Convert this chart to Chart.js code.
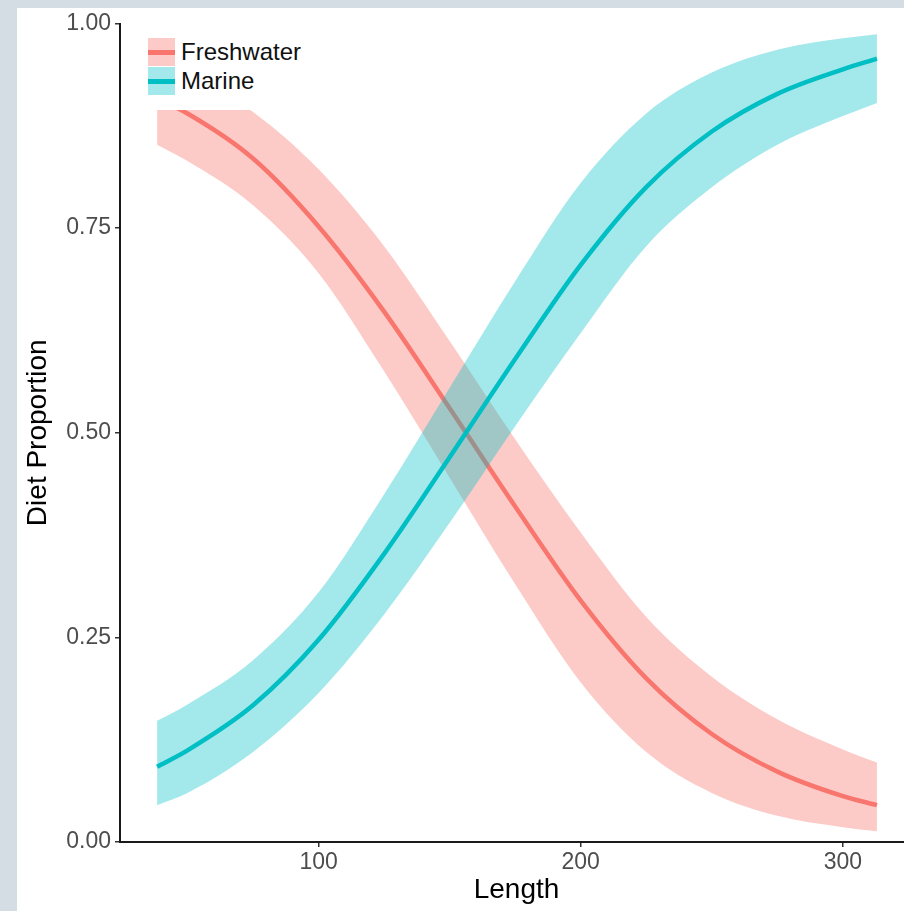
<!DOCTYPE html>
<html>
<head>
<meta charset="utf-8">
<script src="https://cdn.jsdelivr.net/npm/chart.js@4.4.1/dist/chart.umd.min.js"></script>
<style>
  html, body { margin: 0; padding: 0; width: 904px; height: 911px; overflow: hidden; background: #d4dce4; }
  #wrap { position: absolute; left: 17px; top: 8px; width: 896px; height: 903px; background: #fff; }
  #legend { position: absolute; left: 140px; top: 30px; width: 178px; height: 80px; background: #fff;
    font-family: 'Liberation Sans', Arial, sans-serif; font-size: 24px; color: #111; }
  .row { position: absolute; left: 8px; height: 28px; display: flex; align-items: center; }
  .key { position: relative; width: 27px; height: 28px; margin-right: 6px; }
  .key span { position: absolute; left: 0; right: 0; top: 12px; height: 4.5px; }
</style>
</head>
<body>
<div id="wrap"><canvas id="chart" width="896" height="903"></canvas></div>
<div id="legend"></div>
<script>
// fitted diet proportion vs fish length
var lengths    = [38.4, 50, 75, 100, 125, 150, 175, 200, 225, 250, 275, 300, 313];

var freshFit   = [0.908, 0.890, 0.835, 0.752, 0.648, 0.530, 0.410, 0.295, 0.200, 0.132, 0.086, 0.056, 0.045];
var freshHigh  = [0.955, 0.940, 0.892, 0.822, 0.728, 0.612, 0.492, 0.378, 0.275, 0.202, 0.150, 0.113, 0.097];
var freshLow   = [0.852, 0.832, 0.778, 0.695, 0.575, 0.445, 0.315, 0.195, 0.110, 0.060, 0.032, 0.018, 0.013];

var marineFit  = [0.092, 0.112, 0.167, 0.247, 0.352, 0.470, 0.590, 0.705, 0.800, 0.868, 0.914, 0.944, 0.957];
var marineHigh = [0.148, 0.168, 0.222, 0.305, 0.425, 0.555, 0.685, 0.805, 0.890, 0.940, 0.968, 0.982, 0.987];
var marineLow  = [0.045, 0.060, 0.110, 0.182, 0.278, 0.390, 0.508, 0.622, 0.728, 0.800, 0.852, 0.887, 0.903];

var xTicks = [100, 200, 300];
var yTicks = [0, 0.25, 0.5, 0.75, 1];

var seriesNames = ['Freshwater', 'Marine'];
var lineColors  = ['#F8766D', '#00BFC4'];
var bandColors  = ['rgba(248,118,109,0.38)', 'rgba(0,191,196,0.36)'];

var FONT = "'Liberation Sans', Arial, Helvetica, sans-serif";

function pts(arr) {
  return lengths.map(function (x, i) { return { x: x, y: arr[i] }; });
}

function band(arr, color, fill, order) {
  return {
    data: pts(arr),
    borderWidth: 0,
    borderColor: 'transparent',
    backgroundColor: color,
    pointRadius: 0,
    fill: fill,
    order: order,
    cubicInterpolationMode: 'monotone'
  };
}

function fitLine(label, arr, color, order) {
  return {
    label: label,
    data: pts(arr),
    borderColor: color,
    borderWidth: 4.5,
    pointRadius: 0,
    fill: false,
    order: order,
    cubicInterpolationMode: 'monotone'
  };
}

var ctx = document.getElementById('chart').getContext('2d');

window.dietChart = new Chart(ctx, {
  type: 'line',
  data: {
    datasets: [
      band(freshHigh, bandColors[0], '+1', 4),
      band(freshLow, bandColors[0], false, 4),
      fitLine(seriesNames[0], freshFit, lineColors[0], 3),
      band(marineHigh, bandColors[1], '+1', 2),
      band(marineLow, bandColors[1], false, 2),
      fitLine(seriesNames[1], marineFit, lineColors[1], 1)
    ]
  },
  options: {
    responsive: false,
    animation: false,
    layout: { padding: { top: 10, left: 0, right: 0, bottom: 0 } },
    plugins: {
      legend: { display: false },
      tooltip: { enabled: false }
    },
    scales: {
      x: {
        type: 'linear',
        min: 24.25,
        max: 326.75,
        afterBuildTicks: function (s) { s.ticks = xTicks.map(function (v) { return { value: v }; }); },
        afterFit: function (s) { s.height = 69; },
        ticks: { color: '#4d4d4d', font: { size: 23, family: FONT }, padding: 2, maxRotation: 0 },
        grid: { drawOnChartArea: false, drawTicks: true, tickLength: 5, tickColor: '#333', lineWidth: 1.5 },
        border: { display: true, color: '#1a1a1a', width: 2 },
        title: { display: true, text: 'Length', color: '#000', font: { size: 28, family: FONT }, padding: { top: 0, bottom: 4 } }
      },
      y: {
        min: 0,
        max: 1,
        afterBuildTicks: function (s) { s.ticks = yTicks.map(function (v) { return { value: v }; }); },
        afterFit: function (s) { s.width = 103; },
        ticks: { color: '#4d4d4d', font: { size: 23, family: FONT, lineHeight: 1 }, padding: 4,
          callback: function (v) { return Number(v).toFixed(2); } },
        grid: { drawOnChartArea: false, drawTicks: true, tickLength: 5, tickColor: '#333', lineWidth: 1.5 },
        border: { display: true, color: '#1a1a1a', width: 2 },
        title: { display: true, text: 'Diet Proportion', color: '#000', font: { size: 28, family: FONT }, padding: { top: 4, bottom: 0 } }
      }
    }
  }
});

// legend sits inside the panel, on a white box that hides the ribbon behind it
var legend = document.getElementById('legend');
seriesNames.forEach(function (name, i) {
  var row = document.createElement('div');
  row.className = 'row';
  row.style.top = (8 + i * 29) + 'px';
  row.innerHTML = '<div class="key" style="background:' + bandColors[i] + '"><span style="background:' +
    lineColors[i] + '"></span></div><div>' + name + '</div>';
  legend.appendChild(row);
});
</script>
</body>
</html>
